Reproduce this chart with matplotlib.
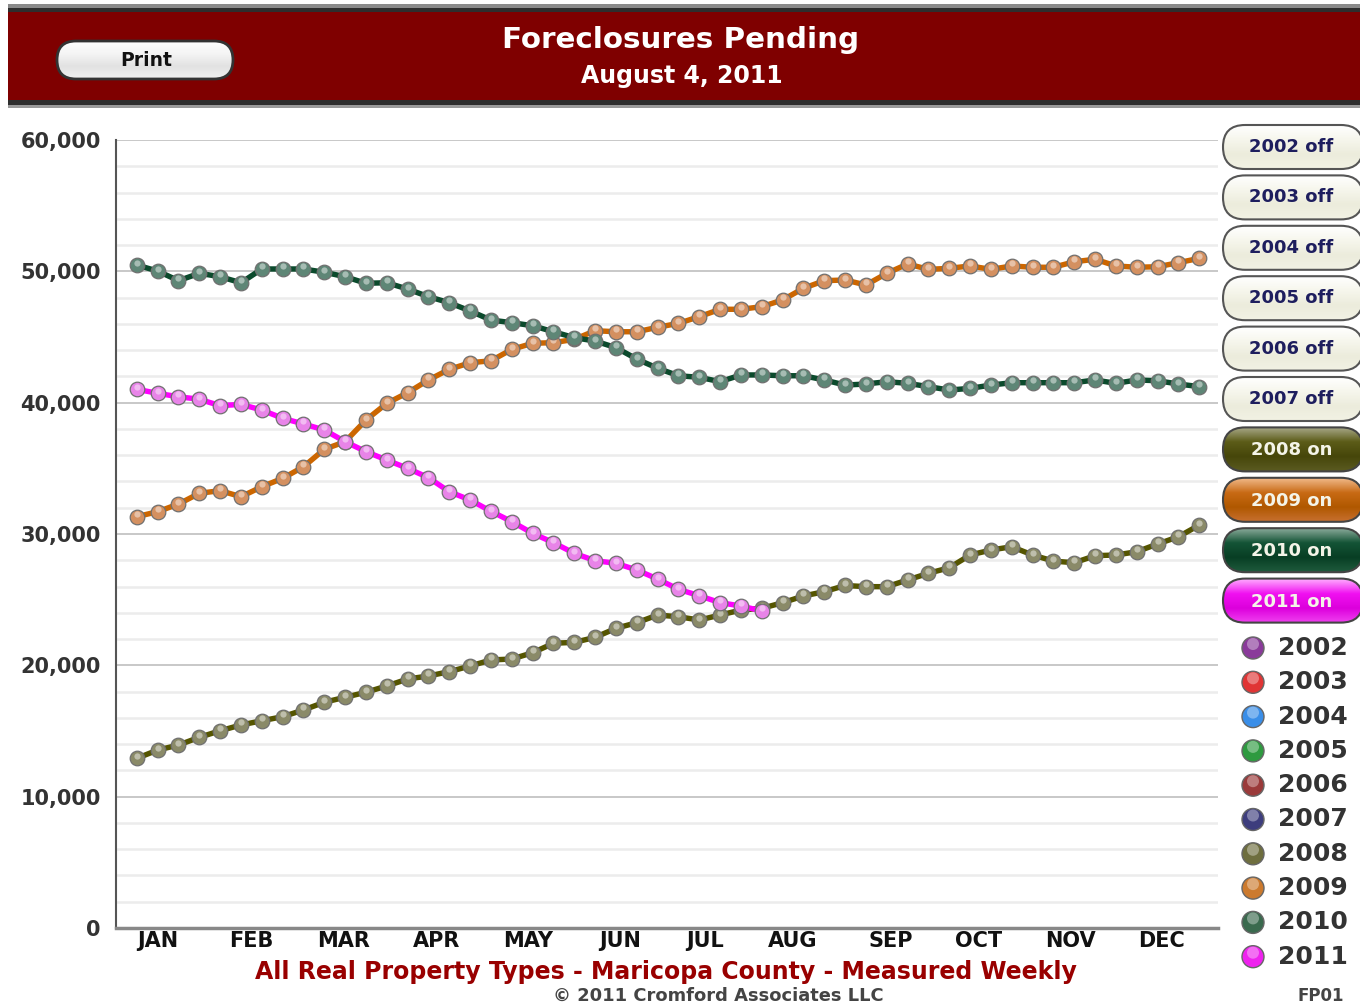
import numpy as np
import matplotlib
matplotlib.use("Agg")
import matplotlib.pyplot as plt
from matplotlib.patches import FancyBboxPatch, Rectangle, Circle
from matplotlib.colors import LinearSegmentedColormap
from matplotlib.ticker import FuncFormatter, MultipleLocator
import matplotlib.transforms as mtransforms

plt.rcParams['font.family'] = ['DejaVu Sans']

# ---------------- data (weekly values) ----------------
months = ["JAN", "FEB", "MAR", "APR", "MAY", "JUN", "JUL", "AUG", "SEP", "OCT", "NOV", "DEC"]

y2008 = [12920, 13550, 13930, 14520, 15020, 15460, 15780, 16090, 16600, 17190,
         17570, 17950, 18430, 18960, 19190, 19520, 19950, 20410, 20480, 20960,
         21680, 21750, 22130, 22820, 23250, 23830, 23700, 23450, 23830, 24210,
         24340, 24770, 25280, 25610, 26080, 25990, 25990, 26500, 27010, 27430,
         28400, 28780, 29030, 28400, 27940, 27810, 28350, 28400, 28650, 29240,
         29790, 30680]

y2009 = [31320, 31700, 32280, 33100, 33300, 32840, 33600, 34240, 35120, 36450,
         37030, 38680, 39950, 40760, 41730, 42540, 43040, 43190, 44060, 44520,
         44570, 44820, 45480, 45400, 45400, 45740, 46040, 46550, 47110, 47110,
         47310, 47820, 48710, 49290, 49340, 48960, 49850, 50560, 50150, 50230,
         50410, 50150, 50410, 50310, 50310, 50730, 50920, 50410, 50310, 50350,
         50660, 50990]

y2010 = [50480, 50020, 49290, 49850, 49590, 49130, 50180, 50180, 50180, 49930,
         49590, 49090, 49130, 48650, 48070, 47610, 46980, 46290, 46090, 45860,
         45400, 44950, 44690, 44190, 43320, 42620, 42050, 41930, 41600, 42110,
         42110, 42050, 42050, 41730, 41340, 41420, 41600, 41470, 41220, 40960,
         41090, 41340, 41520, 41520, 41520, 41520, 41730, 41470, 41730, 41670,
         41420, 41220]

y2011 = [41020, 40710, 40450, 40260, 39770, 39870, 39440, 38810, 38380, 37920,
         37030, 36270, 35630, 35000, 34290, 33220, 32590, 31730, 30940, 30050,
         29340, 28530, 27970, 27770, 27260, 26570, 25790, 25300, 24770, 24520,
         24140]

years_all = ["2002", "2003", "2004", "2005", "2006", "2007", "2008", "2009", "2010", "2011"]
years_on = ["2008", "2009", "2010", "2011"]

# ---------------- styles ----------------
series = [
    ("2008", y2008, "#555500", "#8a8a68"),
    ("2009", y2009, "#cc6600", "#d49060"),
    ("2010", y2010, "#0b4a2c", "#5e8676"),
    ("2011", y2011, "#ff00ff", "#e884e8"),
]
legend_colors = ["#8a3a9a", "#e03535", "#3a8ee8", "#2e9a40", "#9a3a3a",
                 "#3d3d7d", "#6e6e3e", "#cc7a2e", "#3a6a4e", "#ee22ee"]
on_grads = {
    "2008": ["#a8a888", "#5c5c18", "#46460a", "#5a5a20"],
    "2009": ["#f0b888", "#c86a14", "#b05800", "#c87030"],
    "2010": ["#8aaa9a", "#145436", "#083e24", "#1e5a3c"],
    "2011": ["#ffa8ff", "#f010f0", "#dc00dc", "#f040f0"],
}
month_pos = [1.0, 5.5, 9.9, 14.4, 18.8, 23.2, 27.3, 31.5, 36.2, 40.4, 44.8, 49.2]

W, H = 1360, 1006
fig = plt.figure(figsize=(W / 100, H / 100), dpi=100)
fig.patch.set_facecolor("white")

# ---------------- main axes ----------------
ax = fig.add_axes([116 / W, 1 - 928 / H, 1102 / W, 788 / H])
ax.set_xlim(-1.0, 51.9)
ax.set_ylim(0, 60000)
ax.set_facecolor("white")

for v in range(2000, 60001, 2000):
    if v % 10000 == 0:
        ax.axhline(v, color="#c8c8c8", lw=1.4, zorder=1)
    else:
        ax.axhline(v, color="#ececec", lw=1.8, zorder=1)

for sp in ["top", "right"]:
    ax.spines[sp].set_visible(False)
ax.spines["left"].set_color("#555555")
ax.spines["left"].set_linewidth(1.5)
ax.spines["bottom"].set_color("#888888")
ax.spines["bottom"].set_linewidth(2.5)

ax.yaxis.set_major_locator(MultipleLocator(10000))
ax.yaxis.set_major_formatter(FuncFormatter(lambda v, p: f"{int(v):,}"))
ax.tick_params(axis="y", length=0, pad=11, labelsize=15, labelcolor="#333333")
for lab in ax.get_yticklabels():
    lab.set_fontweight("bold")
ax.set_xticks(month_pos)
ax.set_xticklabels(months, fontsize=15, fontweight="bold", color="#111111")
ax.tick_params(axis="x", length=0, pad=2)

hl = mtransforms.offset_copy(ax.transData, fig=fig, x=0, y=1.8, units="points")
for i, (name, vals, lc, mc) in enumerate(series):
    xs = np.arange(len(vals))
    ax.plot(xs, vals, color=lc, lw=3.9, zorder=3 + i, solid_capstyle="round")
    ax.plot(xs, vals, ls="none", marker="o", ms=10.5, mfc=mc, mec="#707070",
            mew=0.9, zorder=3.5 + i)
    ax.plot(xs, vals, ls="none", marker="o", ms=4.5, mfc="white", mec="none",
            alpha=0.45, zorder=3.6 + i, transform=hl)

# ---------------- overlay for decorations ----------------
ov = fig.add_axes([0, 0, 1, 1], zorder=-1)
ov.set_xlim(0, W)
ov.set_ylim(H, 0)
ov.axis("off")
ov.patch.set_alpha(0)

# header band
ov.add_patch(Rectangle((8, 4), W - 8, 4, color="#8a8a8a", lw=0))
ov.add_patch(Rectangle((8, 8), W - 8, 4, color="#2e2e2e", lw=0))
ov.add_patch(Rectangle((8, 12), W - 8, 88, color="#7f0000", lw=0))
ov.add_patch(Rectangle((8, 100), W - 8, 5, color="#2e2e2e", lw=0))
ov.add_patch(Rectangle((8, 105), W - 8, 3, color="#9a9a9a", lw=0))

ov.text(681, 40, "Foreclosures Pending", color="white", fontsize=21.2,
        fontweight="bold", ha="center", va="center")
ov.text(682, 76, "August 4, 2011", color="white", fontsize=17,
        fontweight="bold", ha="center", va="center")


def pill(x, y, w, h, colors, edge="#555555", lw=1.5):
    patch = FancyBboxPatch((x, y), w, h,
                           boxstyle=f"round,pad=0,rounding_size={h / 2}",
                           fc="none", ec=edge, lw=lw, zorder=3)
    ov.add_patch(patch)
    grad = np.linspace(0, 1, 64).reshape(-1, 1)
    cmap = LinearSegmentedColormap.from_list("g", colors)
    im = ov.imshow(grad, cmap=cmap, extent=(x, x + w, y + h, y), origin="upper",
                   aspect="auto", zorder=2, interpolation="bilinear")
    im.set_clip_path(patch)


pill(57, 41, 176, 38, ["#ffffff", "#f4f4f4", "#e2e2e2", "#f0f0f0"], edge="#333333", lw=2)
ov.text(146, 60, "Print", fontsize=13.5, fontweight="bold", color="#111111",
        ha="center", va="center", zorder=4)

# year toggle buttons
for k, yr in enumerate(years_all):
    cy = 147 + k * 50.4
    if yr in years_on:
        pill(1223, cy - 22, 140, 44, on_grads[yr], edge="#444444")
        ov.text(1292, cy + 1, f"{yr} on", fontsize=13, fontweight="bold",
                color="#f4f4e8", ha="center", va="center", zorder=4)
    else:
        pill(1223, cy - 22, 140, 44, ["#ffffff", "#f6f6ec", "#ececdc", "#f2f2e4"],
             edge="#555555")
        ov.text(1291, cy, f"{yr} off", fontsize=13, fontweight="bold",
                color="#1e1e5e", ha="center", va="center", zorder=4)

# year colour legend
for k, yr in enumerate(years_all):
    cy = 648 + k * 34.3
    ov.add_patch(Circle((1253, cy), 11, fc=legend_colors[k], ec="#666666", lw=1, zorder=3))
    ov.add_patch(Circle((1253, cy - 4), 6, fc="white", ec="none", alpha=0.35, zorder=4))
    ov.text(1278, cy, yr, fontsize=18, fontweight="bold", color="#333333",
            ha="left", va="center", zorder=4)

# footer texts
ov.text(666, 972, "All Real Property Types - Maricopa County - Measured Weekly",
        fontsize=17, fontweight="bold", color="#990000", ha="center", va="center")
ov.text(718, 996, "© 2011 Cromford Associates LLC", fontsize=12.9, fontweight="bold",
        color="#444444", ha="center", va="center")
ov.text(1321, 996, "FP01", fontsize=12, fontweight="bold", color="#444444",
        ha="center", va="center")

ov.set_xlim(0, W)
ov.set_ylim(H, 0)

fig.savefig("out.png", dpi=100, facecolor="white")
